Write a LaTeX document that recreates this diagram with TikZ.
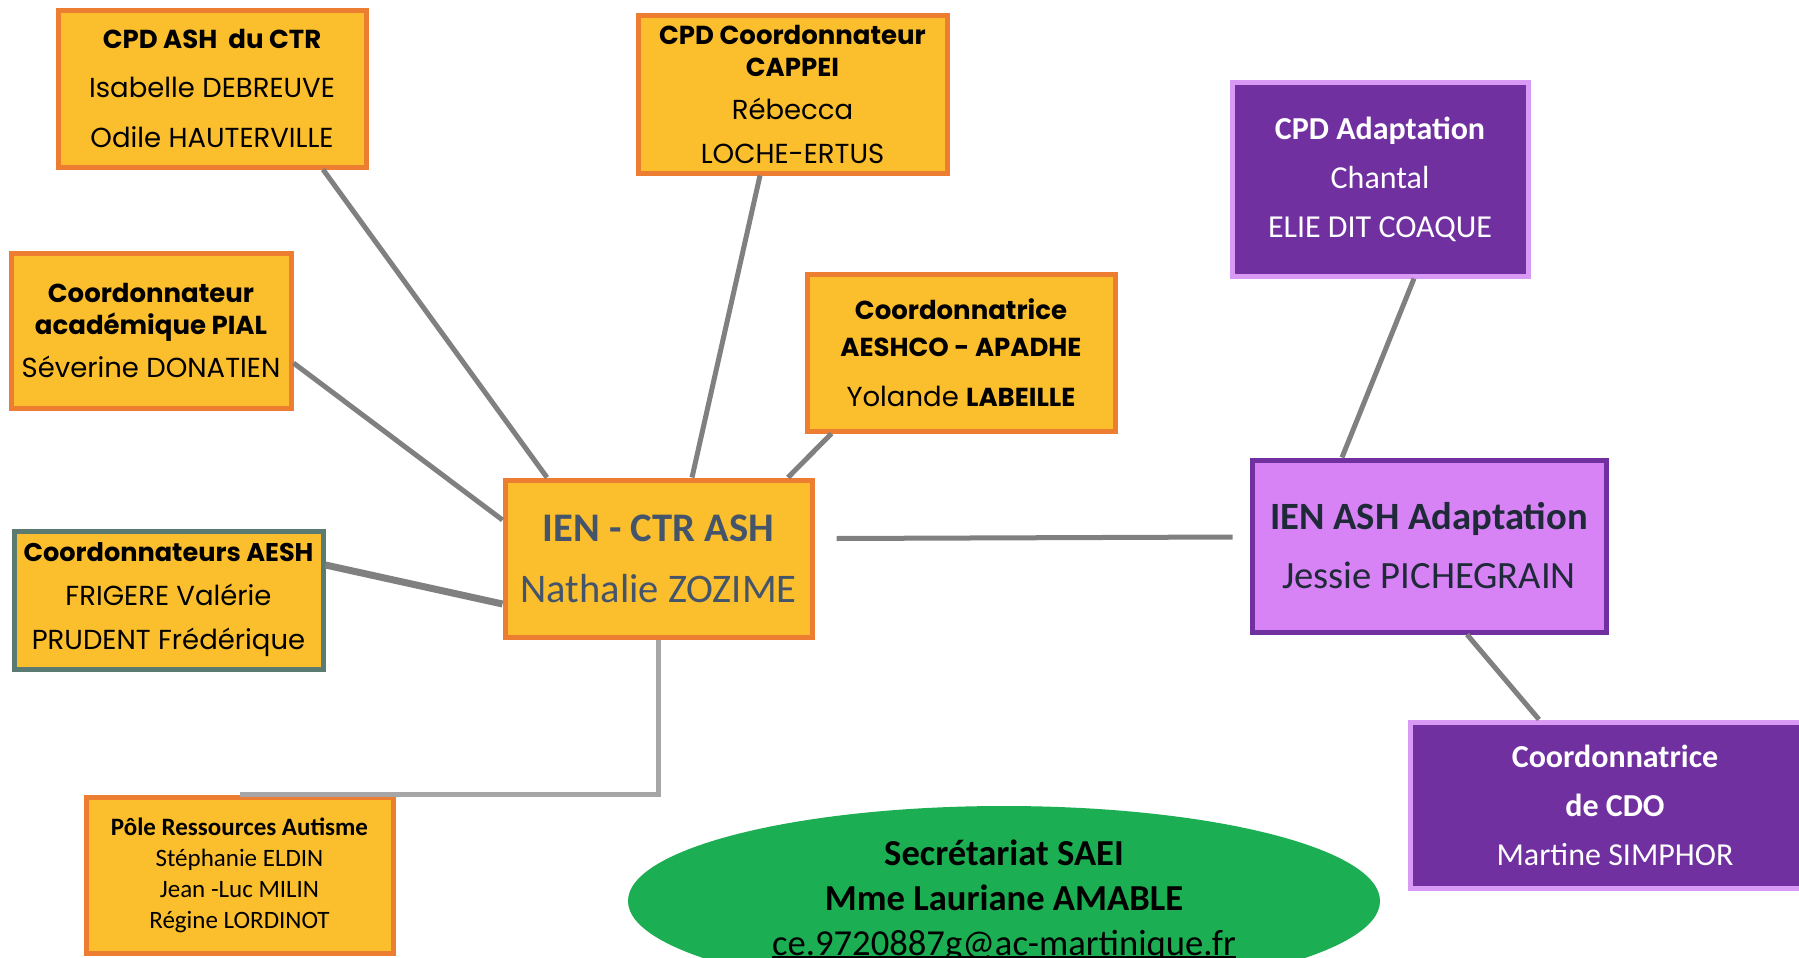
\documentclass[tikz,border=0pt]{standalone}
\usepackage{fontspec}
\setmainfont{Carlito}
\newfontfamily\geo{Poppins}
\usetikzlibrary{calc,shapes.geometric}

\definecolor{boxfill}{HTML}{FBBE2C}
\definecolor{boxline}{HTML}{ED7D31}
\definecolor{plumfill}{HTML}{7030A0}
\definecolor{plumline}{HTML}{D99AF5}
\definecolor{lilacfill}{HTML}{D782F5}
\definecolor{secgreen}{HTML}{1BAE52}
\definecolor{slate}{HTML}{44546A}
\definecolor{navy}{HTML}{1F2A38}
\definecolor{linkgray}{HTML}{808080}
\definecolor{palegray}{HTML}{A6A6A6}
\definecolor{tealgray}{HTML}{5B7B72}

% bold heading line in the orange boxes
\newcommand\hd[1]{{\fontsize{13}{13}\selectfont\bfseries #1}}
% underline that sits close to the baseline
\newlength\maillen
\newcommand\mailline[1]{\settowidth\maillen{#1}\rlap{\rule[-1.3pt]{\maillen}{1pt}}#1}

\begin{document}
\begin{tikzpicture}[x=0.5pt,y=-0.5pt,
  box/.style={rectangle, align=center, inner sep=0pt, line width=2.5pt},
  orangebox/.style={box, fill=boxfill, draw=boxline, font=\geo\fontsize{13.75}{24.75}\selectfont},
  plumbox/.style={box, fill=plumfill, draw=plumline, text=white, font=\fontsize{16}{24.5}\selectfont},
  link/.style={draw=linkgray, line width=2.5pt}]

  % page size
  \clip (0,0) rectangle (1799,958);
  \fill[white] (0,0) rectangle (1799,958);

  % top row
  \node[orangebox, minimum width=154pt, minimum height=78.5pt] (ctr) at (212,88.5)
    {\hd{CPD ASH\ \ du CTR}\\Isabelle DEBREUVE\\Odile HAUTERVILLE};
  \node[orangebox, minimum width=154.5pt, minimum height=79pt,
        font=\geo\fontsize{13.75}{16}\selectfont] (cappei) at (792.5,94)
    {\hd{CPD Coordonnateur}\\\hd{CAPPEI}\\[5.5pt]Rébecca\\[6pt]LOCHE-ERTUS};
  \node[plumbox, minimum width=148pt, minimum height=97pt] (cpdadapt) at (1380,179)
    {\textbf{CPD Adaptation}\\Chantal\\ELIE DIT COAQUE};

  % left column
  \node[orangebox, minimum width=140pt, minimum height=77.5pt,
        font=\geo\fontsize{13.75}{16}\selectfont] (pial) at (151,330.5)
    {\hd{Coordonnateur}\\\hd{académique PIAL}\\[5.5pt]Séverine DONATIEN};
  \node[orangebox, minimum width=154pt, minimum height=78.5pt,
        font=\geo\fontsize{13.75}{18.5}\selectfont] (aeshco) at (961,352.5)
    {\hd{Coordonnatrice}\\\hd{AESHCO - APADHE}\\[6.5pt]Yolande \hd{LABEILLE}};
  \node[orangebox, draw=tealgray, minimum width=154.5pt, minimum height=69pt,
        font=\geo\fontsize{13.75}{22}\selectfont] (aesh) at (168.5,600)
    {{\fontsize{12.8}{12.8}\selectfont\bfseries Coordonnateurs AESH}\\FRIGERE Valérie\\PRUDENT Frédérique};
  \node[orangebox, minimum width=153.5pt, minimum height=78pt,
        font=\fontsize{12.5}{15.5}\selectfont] (pole) at (239.5,875)
    {\textbf{Pôle Ressources Autisme}\\Stéphanie ELDIN\\Jean -Luc MILIN\\Régine LORDINOT};

  % the two inspectors
  \node[orangebox, minimum width=153.5pt, minimum height=78.5pt, text=slate,
        font=\fontsize{20.3}{30.5}\selectfont] (ien) at (658.5,558.5)
    {\textbf{IEN - CTR ASH}\\Nathalie ZOZIME};
  \node[box, fill=lilacfill, draw=plumfill, minimum width=177pt, minimum height=86pt,
        text=navy, font=\fontsize{19.3}{29.5}\selectfont] (ienash) at (1429,546)
    {\textbf{IEN ASH Adaptation}\\Jessie PICHEGRAIN};
  \node[plumbox, minimum width=205pt, minimum height=83pt] (cdo) at (1615,805)
    {\textbf{Coordonnatrice}\\\textbf{de CDO}\\Martine SIMPHOR};

  % secretariat
  \node[ellipse, fill=secgreen, inner sep=0pt, minimum width=376pt, minimum height=95pt,
        align=center, font=\fontsize{18.3}{22.5}\selectfont] (sec) at (1004,901)
    {\textbf{Secrétariat SAEI}\\\textbf{Mme Lauriane AMABLE}\\\mailline{ce.9720887g@ac-martinique.fr}};

  % connectors
  \draw[link] ($(ctr.south)+(111,0)$) -- ($(ien.north)+(-111.5,0)$);
  \draw[link] ($(cappei.south)+(-32.5,0)$) -- ($(ien.north)+(33.5,0)$);
  \draw[link] ($(aeshco.south)+(-129.5,0)$) -- ($(ien.north)+(129.5,0)$);
  \draw[link] ($(pial.east)+(0,32.5)$) -- ($(ien.west)+(0,-38.5)$);
  \draw[link, line width=3.5pt] ($(aesh.east)+(0,-35)$) -- ($(ien.west)+(0,45.5)$);
  \draw[link, draw=palegray] (ien.south) |- (pole.north);
  \draw[link] ($(ien.east)+(22,-20)$) -- ($(ienash.west)+(-17,-9)$);
  \draw[link] ($(cpdadapt.south)+(34,0)$) -- ($(ienash.north)+(-87,0)$);
  \draw[link] ($(ienash.south)+(38,0)$) -- ($(cdo.north)+(-76,0)$);
\end{tikzpicture}
\end{document}
